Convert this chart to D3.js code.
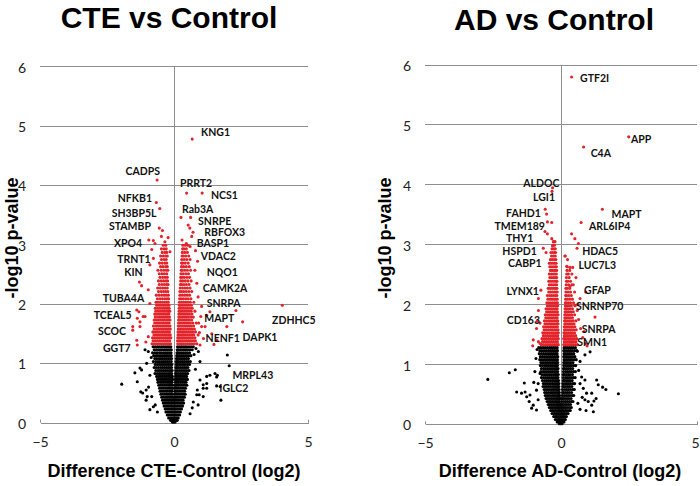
<!DOCTYPE html>
<html><head><meta charset="utf-8">
<script src="https://cdn.jsdelivr.net/npm/d3@7"></script>
<style>body{margin:0;background:#fff}svg{display:block}</style>
</head><body>
<svg id="c" width="700" height="486"></svg>
<script>
// ---------- DATA ----------
const xTicks = [-5, 0, 5];
const yTicks = [0, 1, 2, 3, 4, 5, 6];
const panelTitles = ["CTE vs Control", "AD vs Control"];
const xTitles = ["Difference CTE-Control (log2)", "Difference AD-Control (log2)"];
const yTitle = "-log10 p-value";
const sigThreshold = 1.30103; // -log10(0.05)

// CTE: rows of [ -log10 p , [log2 differences] ]
const cteCoreRows = [
 [1.28,[-0.78,-0.7,-0.62,-0.55,-0.47,-0.4,-0.33,-0.26,-0.19,-0.12,0.13,0.2,0.27,0.34,0.41,0.48,0.56,0.64,0.72]],
 [1.23,[-0.74,-0.66,-0.58,-0.51,-0.44,-0.36,-0.29,-0.22,-0.15,-0.1,0.12,0.17,0.24,0.31,0.38,0.45,0.52,0.6,0.68]],
 [1.18,[-0.8,-0.71,-0.63,-0.54,-0.47,-0.39,-0.32,-0.25,-0.18,-0.11,0.11,0.15,0.22,0.29,0.36,0.43,0.5,0.58]],
 [1.13,[-0.76,-0.67,-0.6,-0.52,-0.44,-0.37,-0.3,-0.23,-0.16,-0.1,0.1,0.14,0.2,0.27,0.34,0.41,0.48,0.55,0.63]],
 [1.08,[-0.72,-0.64,-0.56,-0.49,-0.42,-0.35,-0.28,-0.21,-0.14,-0.09,0.09,0.13,0.19,0.26,0.33,0.4,0.47,0.54]],
 [1.03,[-0.77,-0.68,-0.6,-0.53,-0.45,-0.38,-0.31,-0.24,-0.17,-0.1,0.08,0.12,0.18,0.25,0.32,0.39,0.46,0.53,0.61]],
 [0.98,[-0.7,-0.62,-0.55,-0.48,-0.41,-0.34,-0.27,-0.2,-0.13,-0.08,0.08,0.14,0.21,0.28,0.35,0.42,0.5,0.58]],
 [0.93,[-0.74,-0.66,-0.58,-0.5,-0.43,-0.36,-0.29,-0.22,-0.15,-0.09,0.07,0.11,0.17,0.24,0.31,0.38,0.45,0.52]],
 [0.88,[-0.68,-0.6,-0.53,-0.46,-0.39,-0.32,-0.25,-0.18,-0.12,-0.07,0.07,0.13,0.2,0.27,0.34,0.41,0.48,0.56]],
 [0.83,[-0.71,-0.63,-0.55,-0.48,-0.41,-0.34,-0.27,-0.2,-0.14,-0.08,0.06,0.1,0.16,0.23,0.3,0.37,0.44,0.51]],
 [0.78,[-0.65,-0.57,-0.5,-0.43,-0.36,-0.29,-0.22,-0.16,-0.1,-0.06,0.06,0.12,0.19,0.26,0.33,0.4,0.47]],
 [0.73,[-0.62,-0.55,-0.48,-0.41,-0.34,-0.27,-0.2,-0.14,-0.09,-0.05,0.05,0.09,0.15,0.22,0.29,0.36,0.43,0.5]],
 [0.68,[-0.6,-0.52,-0.45,-0.38,-0.31,-0.24,-0.18,-0.12,-0.07,0.05,0.11,0.17,0.24,0.31,0.38,0.45]],
 [0.63,[-0.57,-0.5,-0.43,-0.36,-0.29,-0.22,-0.16,-0.1,-0.05,0.04,0.08,0.14,0.2,0.27,0.34,0.41,0.48]],
 [0.58,[-0.54,-0.47,-0.4,-0.33,-0.26,-0.2,-0.14,-0.08,-0.04,0.04,0.1,0.16,0.23,0.3,0.37,0.43]],
 [0.53,[-0.52,-0.45,-0.38,-0.31,-0.25,-0.18,-0.12,-0.07,0.03,0.07,0.13,0.19,0.26,0.33,0.4]],
 [0.48,[-0.49,-0.42,-0.35,-0.28,-0.22,-0.16,-0.1,-0.05,0.03,0.09,0.15,0.22,0.29,0.36,0.42]],
 [0.43,[-0.46,-0.39,-0.32,-0.26,-0.2,-0.14,-0.08,-0.03,0.03,0.07,0.13,0.19,0.26,0.33,0.39]],
 [0.38,[-0.43,-0.36,-0.3,-0.24,-0.18,-0.12,-0.07,-0.02,0.02,0.08,0.14,0.2,0.27,0.34]],
 [0.33,[-0.4,-0.34,-0.27,-0.21,-0.15,-0.1,-0.05,0.01,0.06,0.12,0.18,0.24,0.3,0.36]],
 [0.28,[-0.37,-0.31,-0.25,-0.19,-0.13,-0.08,-0.03,0.02,0.08,0.14,0.2,0.26,0.32]],
 [0.23,[-0.33,-0.27,-0.21,-0.16,-0.1,-0.05,0.0,0.05,0.1,0.16,0.22,0.28]],
 [0.18,[-0.3,-0.24,-0.18,-0.13,-0.08,-0.03,0.02,0.07,0.12,0.18,0.24]],
 [0.13,[-0.25,-0.2,-0.14,-0.09,-0.04,0.0,0.05,0.1,0.15,0.21]],
 [0.08,[-0.2,-0.14,-0.09,-0.04,0.01,0.06,0.11,0.16]],
 [0.04,[-0.13,-0.08,-0.03,0.02,0.07,0.12]],
 [0.01,[-0.06,-0.01,0.04]],
 [1.33,[-0.82,-0.74,-0.66,-0.58,-0.5,-0.42,-0.34,-0.27,-0.2,-0.13,0.14,0.21,0.28,0.35,0.43,0.51,0.59,0.67,0.76,0.85]],
 [1.38,[-0.78,-0.7,-0.62,-0.54,-0.46,-0.38,-0.3,-0.23,-0.16,0.13,0.18,0.25,0.32,0.4,0.48,0.56,0.64,0.72,0.8]],
 [1.43,[-0.8,-0.72,-0.63,-0.55,-0.48,-0.4,-0.32,-0.25,-0.18,-0.12,0.14,0.22,0.3,0.37,0.45,0.53,0.61,0.69,0.78]],
 [1.48,[-0.75,-0.67,-0.59,-0.51,-0.43,-0.36,-0.29,-0.21,-0.14,0.15,0.19,0.27,0.34,0.42,0.5,0.58,0.66,0.74,0.9]],
 [1.53,[-0.79,-0.7,-0.62,-0.54,-0.46,-0.39,-0.31,-0.24,-0.17,0.15,0.23,0.31,0.38,0.46,0.54,0.62,0.7,0.8]],
 [1.58,[-0.74,-0.65,-0.57,-0.49,-0.42,-0.34,-0.27,-0.2,-0.14,0.16,0.2,0.27,0.35,0.43,0.51,0.59,0.67,0.76]],
 [1.63,[-0.77,-0.68,-0.6,-0.52,-0.44,-0.37,-0.29,-0.22,-0.15,0.16,0.24,0.32,0.4,0.48,0.56,0.64,0.73]],
 [1.68,[-0.72,-0.63,-0.55,-0.47,-0.4,-0.32,-0.25,-0.18,0.17,0.21,0.29,0.37,0.45,0.53,0.61,0.7,0.83]],
 [1.73,[-0.74,-0.66,-0.58,-0.5,-0.42,-0.35,-0.27,-0.2,-0.15,0.17,0.25,0.33,0.41,0.49,0.57,0.66]],
 [1.78,[-0.7,-0.61,-0.53,-0.45,-0.38,-0.3,-0.23,-0.17,0.18,0.22,0.3,0.38,0.46,0.54,0.63,0.72]],
 [1.83,[-0.72,-0.64,-0.56,-0.48,-0.4,-0.33,-0.26,-0.19,0.18,0.26,0.34,0.42,0.5,0.58,0.67]],
 [1.88,[-0.68,-0.59,-0.51,-0.43,-0.36,-0.28,-0.21,-0.16,0.19,0.23,0.31,0.39,0.47,0.55,0.64,0.78]],
 [1.93,[-0.7,-0.62,-0.54,-0.46,-0.38,-0.31,-0.24,-0.18,0.19,0.27,0.35,0.43,0.51,0.6,0.68]],
 [1.98,[-0.65,-0.57,-0.49,-0.41,-0.34,-0.26,-0.19,0.2,0.24,0.32,0.4,0.48,0.56,0.65]],
 [2.03,[-0.67,-0.59,-0.51,-0.43,-0.35,-0.28,-0.21,0.2,0.28,0.36,0.44,0.52,0.61,0.74]],
 [2.09,[-0.62,-0.52,-0.43,-0.34,-0.26,-0.2,0.21,0.27,0.35,0.44,0.53,0.63]],
 [2.15,[-0.66,-0.56,-0.46,-0.37,-0.29,-0.21,0.22,0.31,0.4,0.49,0.58]],
 [2.21,[-0.58,-0.48,-0.39,-0.31,-0.23,0.22,0.28,0.36,0.45,0.55,0.66]],
 [2.27,[-0.61,-0.51,-0.42,-0.33,-0.25,0.23,0.32,0.41,0.5,0.6]],
 [2.33,[-0.55,-0.45,-0.36,-0.28,-0.22,0.24,0.29,0.37,0.46,0.56]],
 [2.39,[-0.58,-0.48,-0.39,-0.3,-0.24,0.25,0.33,0.42,0.52,0.64]],
 [2.45,[-0.52,-0.42,-0.33,-0.25,0.25,0.3,0.38,0.48,0.58]],
 [2.51,[-0.55,-0.45,-0.36,-0.27,0.26,0.34,0.44,0.54]],
 [2.57,[-0.6,-0.48,-0.38,-0.29,-0.23,0.27,0.31,0.4,0.5,0.62]],
 [2.63,[-0.5,-0.41,-0.31,-0.25,0.28,0.36,0.46,0.57]],
 [2.69,[-0.54,-0.44,-0.34,-0.27,0.28,0.33,0.42,0.53]],
 [2.75,[-0.47,-0.37,-0.29,0.29,0.38,0.48,0.6]],
 [2.81,[-0.5,-0.4,-0.31,-0.25,0.3,0.35,0.44,0.55]],
 [2.87,[-0.44,-0.34,-0.27,0.31,0.4,0.5]],
 [2.93,[-0.47,-0.37,-0.29,0.32,0.37,0.46]],
 [2.99,[-0.4,-0.31,0.33,0.42,0.52]]
];
// CTE: individual outlying proteins [log2 difference, -log10 p]
const cteOutliers = [
 [0.68,4.78],[-0.63,4.09],[0.47,3.87],[1.05,3.87],[-0.66,3.71],[-0.53,3.61],[0.26,3.46],[0.62,3.46],
 [-0.55,3.28],[-0.43,3.24],[0.53,3.33],[0.59,3.28],[0.71,3.21],[0.66,3.14],[-0.47,3.14],[-0.94,3.08],
 [-0.77,3.07],[-0.22,3.12],[-0.34,3.05],[-0.71,3.02],[-0.83,2.92],[0.3,3.08],[0.46,3.02],[0.6,2.97],
 [-0.15,2.88],[-0.77,2.77],[-0.9,2.66],[-1.29,2.37],[-1.21,2.31],[-0.96,2.24],[-0.9,2.01],[-1.39,1.9],
 [-1.31,1.87],[-1.15,1.79],[-1.37,1.76],[-1.08,1.79],[-1.27,1.7],[-1.54,1.62],[-1.27,1.62],[-1.54,1.56],
 [-1.39,1.39],[-0.96,1.45],[-1.37,1.31],[-1.05,1.36],[1.03,1.96],[1.0,1.79],[1.34,1.87],[0.78,2.57],
 [0.85,2.35],[0.9,2.12],[1.16,1.62],[1.41,1.5],[1.97,1.62],[1.6,1.39],[2.31,1.89],[2.56,1.7],[4.04,1.98],
 [1.49,1.32],[0.97,1.31],[1.03,1.62],[1.22,1.81],[0.95,1.52],[1.1,1.42],[0.88,2.72],[0.8,2.9],[0.92,1.68],
 [-1.95,0.65],[-1.46,0.84],[-1.21,0.89],[-1.24,0.52],[-1.17,0.5],[-1.04,0.38],[-1.02,1.0],[-1.08,1.23],
 [-0.83,0.44],[-0.77,0.27],[-0.9,0.22],[-1.27,0.92],[-1.37,0.69],[-1.04,0.55],[-1.0,0.44],[-0.96,1.2],
 [-0.9,0.8],[-0.85,1.1],[-0.95,0.6],[-0.7,0.3],[-0.62,0.18],[0.97,0.72],[1.09,0.64],[1.22,0.78],[1.34,0.8],
 [1.53,0.83],[1.62,0.8],[1.59,0.77],[1.59,0.62],[1.72,0.61],[1.99,1.14],[2.06,0.96],[1.75,0.38],[0.85,0.47],
 [0.72,0.35],[1.09,0.44],[1.22,0.58],[0.97,1.03],[0.91,1.2],[0.87,0.55],[0.94,0.47],[1.09,0.58],[1.22,0.66],
 [0.8,0.9],[0.75,1.15],[0.68,0.25],[0.6,0.15],[0.82,1.25],[0.9,0.3]
];
// CTE labelled proteins [name, label x (log2), label baseline (-log10 p), side]
const cteLabels = [
 ["KNG1",1.01,4.83,"start"],["CADPS",-0.52,4.17,"end"],["PRRT2",0.22,3.98,"start"],["NCS1",1.38,3.77,"start"],
 ["NFKB1",-0.82,3.72,"end"],["SH3BP5L",-0.65,3.47,"end"],["Rab3A",0.30,3.54,"start"],["SNRPE",0.90,3.34,"start"],
 ["STAMBP",-0.86,3.25,"end"],["RBFOX3",1.13,3.14,"start"],["XPO4",-1.19,2.96,"end"],["BASP1",0.85,2.96,"start"],
 ["VDAC2",1.00,2.75,"start"],["TRNT1",-0.87,2.70,"end"],["KIN",-1.17,2.47,"end"],["NQO1",1.22,2.47,"start"],
 ["CAMK2A",1.07,2.21,"start"],["TUBA4A",-1.11,2.04,"end"],["SNRPA",1.22,1.95,"start"],["ZDHHC5",3.66,1.66,"start"],
 ["TCEAL5",-1.58,1.75,"end"],["MAPT",1.13,1.69,"start"],["DAPK1",2.56,1.38,"start"],["SCOC",-1.79,1.48,"end"],
 ["NENF1",1.18,1.36,"start"],["GGT7",-1.62,1.19,"end"],["MRPL43",2.18,0.73,"start"],["IGLC2",1.69,0.51,"start"]
];

// AD: rows of [ -log10 p , [log2 differences] ]
const adCoreRows = [
 [1.28,[-0.82,-0.74,-0.66,-0.58,-0.5,-0.42,-0.35,-0.28,-0.21,-0.14,0.11,0.17,0.24,0.31,0.38,0.45,0.53]],
 [1.23,[-0.78,-0.7,-0.62,-0.54,-0.46,-0.39,-0.32,-0.25,-0.18,-0.13,0.1,0.14,0.21,0.28,0.35,0.42,0.5,0.58]],
 [1.18,[-0.8,-0.72,-0.64,-0.56,-0.48,-0.41,-0.34,-0.27,-0.2,-0.14,0.11,0.18,0.25,0.32,0.39,0.47]],
 [1.13,[-0.76,-0.68,-0.6,-0.52,-0.45,-0.38,-0.31,-0.24,-0.17,-0.12,0.1,0.15,0.22,0.29,0.36,0.43,0.51]],
 [1.08,[-0.78,-0.7,-0.62,-0.55,-0.48,-0.41,-0.34,-0.27,-0.2,-0.13,0.11,0.19,0.26,0.33,0.4,0.48,0.56]],
 [1.03,[-0.74,-0.66,-0.58,-0.51,-0.44,-0.37,-0.3,-0.23,-0.17,-0.12,0.1,0.15,0.22,0.29,0.36,0.44]],
 [0.98,[-0.76,-0.68,-0.6,-0.53,-0.46,-0.39,-0.32,-0.25,-0.19,-0.13,0.1,0.18,0.25,0.32,0.39,0.47,0.54]],
 [0.93,[-0.72,-0.64,-0.57,-0.5,-0.43,-0.36,-0.29,-0.22,-0.16,-0.11,0.09,0.14,0.21,0.28,0.35,0.43]],
 [0.88,[-0.74,-0.66,-0.59,-0.52,-0.45,-0.38,-0.31,-0.24,-0.18,-0.12,0.09,0.17,0.24,0.31,0.38,0.46,0.53]],
 [0.83,[-0.7,-0.62,-0.55,-0.48,-0.41,-0.34,-0.27,-0.21,-0.15,-0.1,0.08,0.13,0.2,0.27,0.34,0.42]],
 [0.78,[-0.72,-0.64,-0.57,-0.5,-0.43,-0.36,-0.29,-0.22,-0.16,-0.11,0.08,0.16,0.23,0.3,0.37,0.45,0.52]],
 [0.73,[-0.68,-0.6,-0.53,-0.46,-0.39,-0.32,-0.26,-0.2,-0.14,-0.09,0.08,0.12,0.19,0.26,0.33,0.41]],
 [0.68,[-0.65,-0.58,-0.51,-0.44,-0.37,-0.3,-0.24,-0.18,-0.12,-0.08,0.07,0.15,0.22,0.29,0.36,0.44,0.5]],
 [0.63,[-0.66,-0.59,-0.52,-0.45,-0.38,-0.31,-0.25,-0.19,-0.13,-0.08,0.07,0.11,0.18,0.25,0.32,0.4]],
 [0.58,[-0.62,-0.55,-0.48,-0.41,-0.34,-0.28,-0.22,-0.16,-0.11,-0.07,0.06,0.14,0.21,0.28,0.35,0.43,0.49]],
 [0.53,[-0.6,-0.53,-0.46,-0.39,-0.33,-0.27,-0.21,-0.15,-0.1,-0.06,0.06,0.1,0.17,0.24,0.31,0.39]],
 [0.48,[-0.58,-0.51,-0.44,-0.37,-0.31,-0.25,-0.19,-0.13,-0.08,-0.05,0.05,0.12,0.19,0.26,0.33,0.41,0.47]],
 [0.43,[-0.55,-0.48,-0.41,-0.35,-0.29,-0.23,-0.17,-0.12,-0.07,-0.03,0.04,0.09,0.15,0.22,0.29,0.37]],
 [0.38,[-0.51,-0.44,-0.38,-0.32,-0.26,-0.2,-0.15,-0.1,-0.05,0.03,0.1,0.17,0.24,0.31,0.38,0.44]],
 [0.33,[-0.47,-0.41,-0.35,-0.29,-0.23,-0.17,-0.12,-0.07,-0.02,0.04,0.09,0.15,0.21,0.28,0.35]],
 [0.28,[-0.43,-0.37,-0.31,-0.25,-0.19,-0.14,-0.09,-0.04,0.01,0.06,0.12,0.18,0.25,0.32,0.38]],
 [0.23,[-0.38,-0.32,-0.26,-0.21,-0.15,-0.1,-0.05,0.0,0.05,0.1,0.16,0.22,0.29,0.34]],
 [0.18,[-0.33,-0.27,-0.22,-0.16,-0.11,-0.06,-0.01,0.04,0.09,0.14,0.2,0.26]],
 [0.13,[-0.27,-0.21,-0.16,-0.11,-0.06,-0.01,0.04,0.09,0.14,0.2]],
 [0.08,[-0.21,-0.15,-0.1,-0.05,0.0,0.05,0.1,0.16]],
 [0.04,[-0.14,-0.09,-0.04,0.01,0.06,0.11]],
 [0.01,[-0.06,-0.01,0.04]],
 [1.33,[-0.72,-0.64,-0.56,-0.48,-0.4,-0.32,-0.24,-0.17,-0.1,0.1,0.16,0.23,0.3,0.37,0.44,0.52,0.6]],
 [1.38,[-0.68,-0.6,-0.52,-0.44,-0.36,-0.28,-0.2,-0.13,0.12,0.19,0.26,0.33,0.4,0.47,0.55]],
 [1.43,[-0.7,-0.62,-0.54,-0.46,-0.38,-0.3,-0.23,-0.16,-0.1,0.1,0.15,0.22,0.29,0.36,0.43,0.5,0.58]],
 [1.48,[-0.65,-0.57,-0.49,-0.41,-0.33,-0.26,-0.19,-0.12,0.12,0.18,0.25,0.32,0.39,0.46,0.54]],
 [1.53,[-0.67,-0.59,-0.51,-0.43,-0.35,-0.28,-0.21,-0.14,-0.1,0.11,0.14,0.21,0.28,0.35,0.42,0.5]],
 [1.58,[-0.62,-0.54,-0.46,-0.38,-0.31,-0.24,-0.17,-0.11,0.13,0.18,0.25,0.32,0.39,0.47,0.56]],
 [1.63,[-0.64,-0.56,-0.48,-0.4,-0.33,-0.26,-0.19,-0.13,0.12,0.15,0.22,0.29,0.36,0.43,0.51]],
 [1.68,[-0.59,-0.51,-0.43,-0.36,-0.29,-0.22,-0.15,-0.11,0.14,0.19,0.26,0.33,0.4,0.48]],
 [1.73,[-0.61,-0.53,-0.45,-0.38,-0.31,-0.24,-0.17,-0.12,0.13,0.16,0.23,0.3,0.37,0.45,0.55]],
 [1.78,[-0.56,-0.48,-0.41,-0.34,-0.27,-0.2,-0.14,0.14,0.2,0.27,0.34,0.42]],
 [1.83,[-0.58,-0.5,-0.43,-0.36,-0.29,-0.22,-0.15,-0.11,0.14,0.17,0.24,0.31,0.39,0.5]],
 [1.88,[-0.53,-0.46,-0.39,-0.32,-0.25,-0.18,-0.13,0.15,0.21,0.28,0.36,0.45]],
 [1.93,[-0.55,-0.48,-0.41,-0.34,-0.27,-0.2,-0.14,0.15,0.18,0.25,0.33,0.42]],
 [1.98,[-0.5,-0.43,-0.36,-0.29,-0.22,-0.16,-0.12,0.16,0.22,0.3,0.38,0.52]],
 [2.03,[-0.52,-0.45,-0.38,-0.31,-0.24,-0.18,-0.13,0.16,0.19,0.27,0.35,0.46]],
 [2.09,[-0.48,-0.4,-0.33,-0.26,-0.2,-0.14,0.17,0.24,0.32,0.42]],
 [2.15,[-0.5,-0.42,-0.35,-0.28,-0.21,-0.15,0.17,0.21,0.29,0.38]],
 [2.21,[-0.45,-0.38,-0.31,-0.24,-0.18,-0.14,0.18,0.26,0.35,0.5]],
 [2.27,[-0.47,-0.4,-0.33,-0.26,-0.2,-0.15,0.18,0.23,0.32]],
 [2.33,[-0.43,-0.36,-0.29,-0.22,-0.16,0.19,0.28,0.4]],
 [2.39,[-0.45,-0.38,-0.31,-0.24,-0.18,-0.15,0.2,0.25,0.35]],
 [2.45,[-0.41,-0.34,-0.27,-0.21,-0.16,0.2,0.3]],
 [2.51,[-0.43,-0.36,-0.29,-0.23,-0.17,0.21,0.27,0.4]],
 [2.57,[-0.39,-0.32,-0.25,-0.19,-0.16,0.22,0.32]],
 [2.63,[-0.41,-0.34,-0.27,-0.21,-0.17,0.23]],
 [2.69,[-0.37,-0.3,-0.23,-0.18]],
 [2.75,[-0.39,-0.32,-0.25,-0.19,0.24]],
 [2.81,[-0.35,-0.28,-0.21,0.15]],
 [2.87,[-0.37,-0.3,-0.23,-0.2]],
 [2.93,[-0.33,-0.26,-0.21]],
 [2.99,[-0.3,-0.24]],
 [3.05,[-0.27,-0.22]]
];
const adOutliers = [
 [0.39,5.8],[2.49,4.8],[0.83,4.63],[-0.31,3.95],[-0.33,3.89],[-0.58,3.59],[-0.53,3.51],[1.52,3.59],
 [-0.5,3.38],[-0.34,3.37],[0.74,3.37],[-0.59,3.22],[-0.5,3.18],[0.39,3.18],[0.51,3.1],[0.64,3.02],
 [0.59,2.94],[-0.65,2.94],[-0.55,2.87],[-0.34,3.1],[-0.28,3.05],[-0.31,2.98],[-0.43,2.69],[0.21,2.64],
 [0.33,2.62],[0.43,2.62],[0.15,2.81],[-0.74,2.24],[0.91,2.21],[0.7,2.1],[1.25,1.79],[0.51,1.99],
 [0.33,2.3],[0.45,2.33],[-0.83,2.1],[-0.83,1.9],[-0.77,1.69],[-1.02,1.41],[-0.9,1.6],[-0.88,1.72],
 [0.96,1.31],[0.8,1.45],[0.72,1.6],[0.85,1.55],[0.65,1.75],[-1.04,1.31],[-0.83,1.38],[-0.77,1.35],
 [0.9,1.35],[0.6,1.9],[0.55,2.45],[0.62,2.0],
 [-2.69,0.75],[-1.9,0.86],[-1.68,0.91],[-1.35,0.69],[-1.63,0.54],[-1.45,0.52],[-1.32,0.54],[-1.26,0.46],
 [-1.14,0.49],[-1.17,0.38],[-1.02,0.32],[-1.08,0.27],[-0.9,0.24],[-0.84,0.41],[-0.9,0.57],[-0.84,0.68],
 [-0.77,0.85],[-0.96,0.88],[-0.92,1.1],[-0.88,1.25],[-1.0,0.7],[0.76,0.79],[0.88,0.74],[0.82,0.6],
 [0.94,0.52],[0.7,0.68],[0.88,0.41],[1.0,0.38],[1.13,0.32],[1.21,0.39],[1.29,0.43],[1.13,0.52],[1.31,0.74],
 [1.37,0.66],[1.53,0.62],[1.65,0.58],[2.11,0.51],[0.7,0.25],[0.92,0.23],[1.19,0.21],[1.07,1.21],[0.88,1.16],
 [0.7,1.05],[0.65,0.9],[0.62,0.35],[0.6,1.22],[0.78,0.45]
];
const adLabels = [
 ["GTF2I",0.70,5.72,"start"],["APP",2.57,4.70,"start"],["C4A",1.09,4.47,"start"],["ALDOC",-0.06,3.97,"end"],
 ["LGI1",-0.22,3.73,"end"],["FAHD1",-0.74,3.46,"end"],["MAPT",1.86,3.44,"start"],["TMEM189",-0.59,3.25,"end"],
 ["ARL6IP4",1.03,3.24,"start"],["THY1",-1.02,3.05,"end"],["HDAC5",0.78,2.83,"start"],["HSPD1",-0.89,2.83,"end"],
 ["CABP1",-0.71,2.62,"end"],["LUC7L3",0.64,2.60,"start"],["LYNX1",-0.81,2.16,"end"],["GFAP",0.85,2.18,"start"],
 ["SNRNP70",0.55,1.91,"start"],["CD163",-0.77,1.67,"end"],["SNRPA",0.76,1.52,"start"],["SMN1",0.60,1.31,"start"]
];

// ---------- DRAWING ----------
const svg = d3.select("#c");
const layouts = [
  {xr:[40,308], yr:[422.7,66.7], titleX:169, titleY:28, xtX:174, xtY:477, ytX:18, ytY:238, tickPad:14},
  {xr:[425,697], yr:[424.3,65], titleX:554, titleY:30, xtX:560, xtY:477, ytX:391, ytY:238, tickPad:14}
];
const RED = "#e3232a", GRID = "#8e8e8e";

function expand(rows, extra){
  return rows.flatMap(([y, xs]) => xs.map(x => ({x, y}))).concat(extra.map(([x, y]) => ({x, y})));
}

function drawPanel(i, rows, extra, labels){
  const L = layouts[i];
  const x = d3.scaleLinear().domain([-5,5]).range(L.xr);
  const y = d3.scaleLinear().domain([0,6]).range(L.yr);
  const g = svg.append("g");

  // horizontal gridlines
  g.append("g").selectAll("line").data(yTicks.filter(d => d > 0)).join("line")
    .attr("x1", x(-5)).attr("x2", x(5)).attr("y1", d => y(d)).attr("y2", d => y(d))
    .attr("stroke", GRID).attr("stroke-width", 1).attr("shape-rendering","crispEdges");
  // vertical zero line
  g.append("line").attr("x1", x(0)).attr("x2", x(0)).attr("y1", y(0)).attr("y2", y(6))
    .attr("stroke", GRID).attr("shape-rendering","crispEdges");

  // x axis
  const xa = g.append("g").attr("transform", `translate(0,${y(0)})`)
    .call(d3.axisBottom(x).tickValues(xTicks).tickSizeInner(-3).tickSizeOuter(0).tickPadding(L.tickPad).tickFormat(d3.format("d")));
  xa.select(".domain").attr("stroke", GRID).attr("shape-rendering","crispEdges");
  xa.selectAll(".tick line").attr("stroke", GRID);
  xa.selectAll("text").attr("font-family","Lato, sans-serif").attr("font-size", 14).attr("fill","#222");
  if (i === 1) xa.selectAll("text").filter(d => d === 5).attr("dx", -2);

  // y axis labels
  const ya = g.append("g").attr("transform", `translate(${x(-5)},0)`)
    .call(d3.axisLeft(y).tickValues(yTicks).tickSize(0).tickPadding(14).tickFormat(d3.format("d")));
  ya.select(".domain").remove();
  ya.selectAll("text").attr("font-family","Lato, sans-serif").attr("font-size", 14).attr("fill","#222").attr("dy","0.4em");

  // points
  const pts = expand(rows, extra);
  const black = pts.filter(d => d.y <= sigThreshold), red = pts.filter(d => d.y > sigThreshold);
  g.append("g").selectAll("circle").data(black).join("circle")
    .attr("cx", d => x(d.x)).attr("cy", d => y(d.y)).attr("r", 1.55).attr("fill", "#000");
  g.append("g").selectAll("circle").data(red).join("circle")
    .attr("cx", d => x(d.x)).attr("cy", d => y(d.y)).attr("r", 1.55).attr("fill", RED);

  // gene labels
  g.append("g").selectAll("text").data(labels).join("text")
    .attr("x", d => x(d[1])).attr("y", d => y(d[2])).attr("text-anchor", d => d[3])
    .attr("font-family","Lato, sans-serif").attr("font-weight", 700).attr("font-size", 10.5).attr("fill","#111")
    .text(d => d[0]);

  // titles
  g.append("text").attr("x", L.titleX).attr("y", L.titleY).attr("text-anchor","middle")
    .attr("font-family","'Liberation Sans', Arial, sans-serif").attr("font-weight",700).attr("font-size",30)
    .text(panelTitles[i]);
  g.append("text").attr("x", L.xtX).attr("y", L.xtY).attr("text-anchor","middle")
    .attr("font-family","'Liberation Sans', Arial, sans-serif").attr("font-weight",700).attr("font-size",18)
    .text(xTitles[i]);
  g.append("text").attr("transform", `translate(${L.ytX},${L.ytY}) rotate(-90)`).attr("text-anchor","middle")
    .attr("font-family","'Liberation Sans', Arial, sans-serif").attr("font-weight",700).attr("font-size",18)
    .text(yTitle);
}

drawPanel(0, cteCoreRows, cteOutliers, cteLabels);
drawPanel(1, adCoreRows, adOutliers, adLabels);
</script>
</body></html>
